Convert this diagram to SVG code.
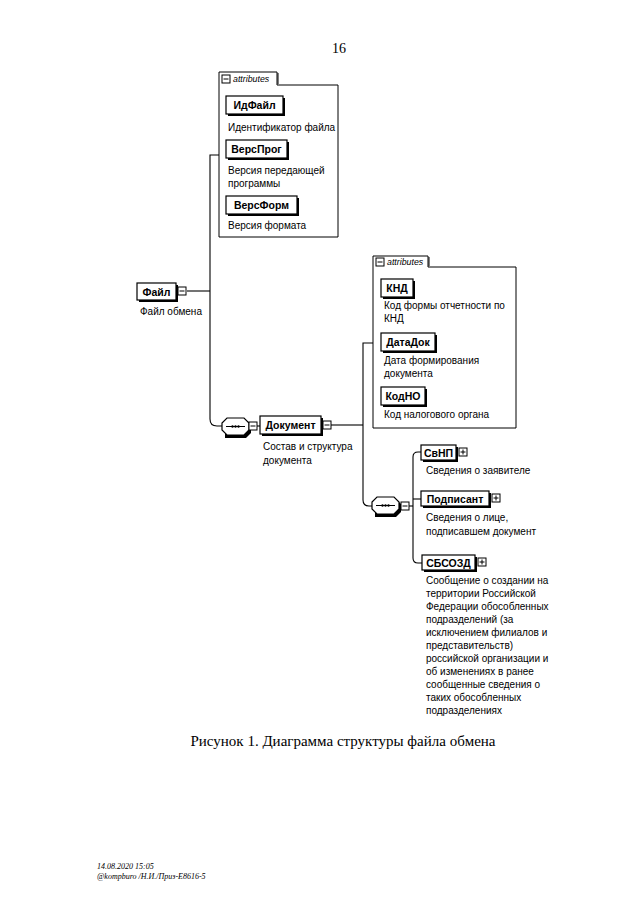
<svg xmlns="http://www.w3.org/2000/svg" width="640" height="905" viewBox="0 0 640 905">
<defs>
<style>
.bg{fill:#ffffff}
.box{fill:#ffffff;stroke:#000;stroke-width:1.2}
.sh{fill:#000}
.frame{fill:none;stroke:#000;stroke-width:1}
.conn{fill:none;stroke:#000;stroke-width:1.1}
.lbl{font-family:"Liberation Sans",Arial,sans-serif;font-weight:bold;font-size:10.5px;fill:#000}
.desc{font-family:"Liberation Sans",Arial,sans-serif;font-size:10px;fill:#000}
.tab{font-family:"Liberation Sans",Arial,sans-serif;font-style:italic;font-size:8.8px;fill:#000}
.ico{fill:#fff;stroke:#000;stroke-width:1}
.serif{font-family:"Liberation Serif","Times New Roman",serif;fill:#000}
</style>
<g id="minus">
<rect class="ico" x="0" y="0" width="8" height="8"/>
<path d="M1.5,4H6.5" stroke="#000" stroke-width="1"/>
</g>
<g id="plus">
<rect class="ico" x="0" y="0" width="8" height="8"/>
<path d="M1.5,4H6.5M4,1.5V6.5" stroke="#000" stroke-width="1"/>
</g>
<g id="seq">
<path d="M3,2H24L29,7V15L24,20H3Z" fill="#000"/>
<path class="box" d="M5,0H22L27,5V12L22,17H5L0,12V5Z"/>
<path d="M4,8.5H23" stroke="#000" stroke-width="1"/>
<circle cx="10.5" cy="8.5" r="1.2"/>
<circle cx="13.5" cy="8.5" r="1.2"/>
<circle cx="16.5" cy="8.5" r="1.2"/>
</g>
</defs>
<rect class="bg" x="0" y="0" width="640" height="905"/>

<text class="serif" x="339" y="53" font-size="14" text-anchor="middle">16</text>

<g id="connectors">
<path class="conn" d="M187,291H210"/>
<path class="conn" d="M219,155H210V419Q210,426 217,426H222"/>
<path class="conn" d="M256,426H260"/>
<path class="conn" d="M331,425H363"/>
<path class="conn" d="M373,343H363V500Q363,506 369,506H372"/>
<path class="conn" d="M409,506H413"/>
<path class="conn" d="M421,452H418Q413,452 413,457V558Q413,563 418,563H422"/>
<path class="conn" d="M413,499H421"/>
</g>

<g id="attributes1">
<path class="frame" d="M219,237V72H277V85H338V237Z"/>
<path d="M278,73V84" stroke="#000" stroke-width="1"/>
<use href="#minus" x="222" y="75"/>
<text class="tab" x="233" y="82">attributes</text>
</g>

<g id="node-IdFile">
<rect class="sh" x="228" y="98" width="57" height="18"/>
<rect class="box" x="226" y="96" width="57" height="18"/>
<text class="lbl" x="254.5" y="109" text-anchor="middle">ИдФайл</text>
<text class="desc" x="228" y="131">Идентификатор файла</text>
</g>

<g id="node-VersProg">
<rect class="sh" x="228" y="142" width="61" height="18"/>
<rect class="box" x="226" y="140" width="61" height="18"/>
<text class="lbl" x="256.5" y="153" text-anchor="middle">ВерсПрог</text>
<text class="desc" x="228" y="174">Версия передающей</text>
<text class="desc" x="228" y="187">программы</text>
</g>

<g id="node-VersForm">
<rect class="sh" x="228" y="198" width="71" height="18"/>
<rect class="box" x="226" y="196" width="71" height="18"/>
<text class="lbl" x="261.5" y="209" text-anchor="middle">ВерсФорм</text>
<text class="desc" x="228" y="229">Версия формата</text>
</g>

<g id="node-File">
<rect class="sh" x="139" y="285" width="39" height="17"/>
<rect class="box" x="137" y="283" width="39" height="17"/>
<text class="lbl" x="156.5" y="295.5" text-anchor="middle">Файл</text>
<use href="#minus" x="178" y="287"/>
<text class="desc" x="140" y="315">Файл обмена</text>
</g>

<g id="attributes2">
<path class="frame" d="M373,428V256H428V267H516V428Z"/>
<path d="M429,257V266" stroke="#000" stroke-width="1"/>
<use href="#minus" x="376" y="258"/>
<text class="tab" x="387" y="265">attributes</text>
</g>

<g id="node-KND">
<rect class="sh" x="383" y="281" width="32" height="18"/>
<rect class="box" x="381" y="279" width="32" height="18"/>
<text class="lbl" x="397" y="292" text-anchor="middle">КНД</text>
<text class="desc" x="384" y="309">Код формы отчетности по</text>
<text class="desc" x="384" y="322">КНД</text>
</g>

<g id="node-DataDok">
<rect class="sh" x="383" y="335" width="54" height="18"/>
<rect class="box" x="381" y="333" width="54" height="18"/>
<text class="lbl" x="408" y="346" text-anchor="middle">ДатаДок</text>
<text class="desc" x="384" y="364">Дата формирования</text>
<text class="desc" x="384" y="377">документа</text>
</g>

<g id="node-KodNO">
<rect class="sh" x="383" y="389" width="44" height="18"/>
<rect class="box" x="381" y="387" width="44" height="18"/>
<text class="lbl" x="403" y="400" text-anchor="middle">КодНО</text>
<text class="desc" x="384" y="418">Код налогового органа</text>
</g>

<g id="seq1">
<use href="#seq" x="222" y="418"/>
<use href="#minus" x="249" y="422"/>
</g>

<g id="node-Dokument">
<rect class="sh" x="262" y="418" width="61" height="18"/>
<rect class="box" x="260" y="416" width="61" height="18"/>
<text class="lbl" x="290.5" y="429" text-anchor="middle">Документ</text>
<use href="#minus" x="323" y="421"/>
<text class="desc" x="263" y="450">Состав и структура</text>
<text class="desc" x="263" y="464">документа</text>
</g>

<g id="seq2">
<use href="#seq" x="372" y="497"/>
<use href="#minus" x="401" y="502"/>
</g>

<g id="node-SvNP">
<rect class="sh" x="423" y="447" width="35" height="15"/>
<rect class="box" x="421" y="445" width="35" height="15"/>
<text class="lbl" x="438.5" y="456.5" text-anchor="middle">СвНП</text>
<use href="#plus" x="459" y="448"/>
<text class="desc" x="426" y="474">Сведения о заявителе</text>
</g>

<g id="node-Podpisant">
<rect class="sh" x="423" y="493" width="68" height="15"/>
<rect class="box" x="421" y="491" width="68" height="15"/>
<text class="lbl" x="455" y="502.5" text-anchor="middle">Подписант</text>
<use href="#plus" x="492" y="494"/>
<text class="desc" x="426" y="521">Сведения о лице,</text>
<text class="desc" x="426" y="535">подписавшем документ</text>
</g>

<g id="node-SBSOZD">
<rect class="sh" x="424" y="557" width="53" height="15"/>
<rect class="box" x="422" y="555" width="53" height="15"/>
<text class="lbl" x="448.5" y="566.5" text-anchor="middle">СБСОЗД</text>
<use href="#plus" x="478" y="558"/>
<text class="desc" x="426" y="584">Сообщение о создании на</text>
<text class="desc" x="426" y="597">территории Российской</text>
<text class="desc" x="426" y="610">Федерации обособленных</text>
<text class="desc" x="426" y="623">подразделений (за</text>
<text class="desc" x="426" y="636">исключением филиалов и</text>
<text class="desc" x="426" y="649">представительств)</text>
<text class="desc" x="426" y="662">российской организации и</text>
<text class="desc" x="426" y="675">об изменениях в ранее</text>
<text class="desc" x="426" y="688">сообщенные сведения о</text>
<text class="desc" x="426" y="701">таких обособленных</text>
<text class="desc" x="426" y="714">подразделениях</text>
</g>

<text class="serif" x="343" y="746" font-size="15" text-anchor="middle">Рисунок 1. Диаграмма структуры файла обмена</text>

<text class="serif" x="97" y="869" font-size="8" font-style="italic">14.08.2020 15:05</text>
<text class="serif" x="97" y="879" font-size="8" font-style="italic">@kompburo /Н.И./Приз-E8616-5</text>
</svg>
